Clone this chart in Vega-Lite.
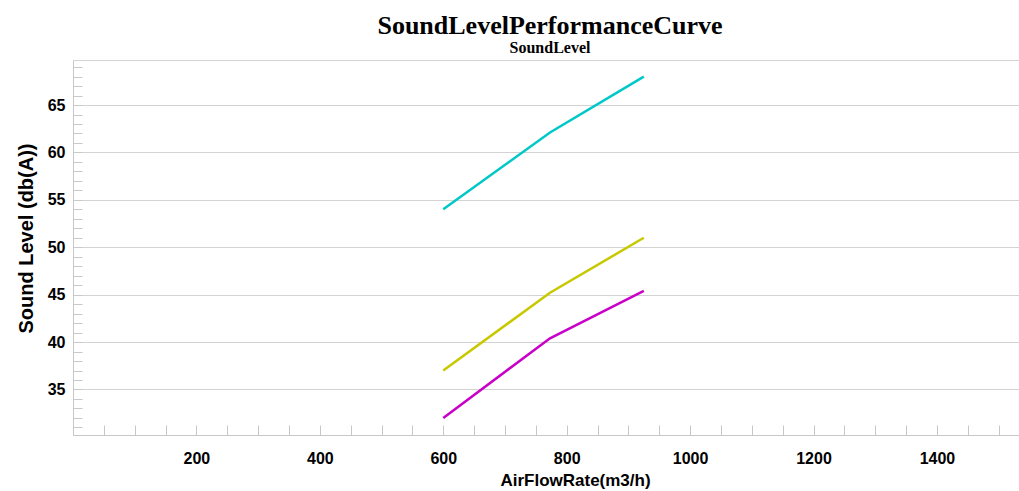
{
  "$schema": "https://vega.github.io/schema/vega-lite/v6.json",
  "width": 946,
  "height": 375,
  "autosize": {"type": "none"},
  "padding": {"left": 73, "top": 60, "right": 0, "bottom": 56},
  "background": "white",
  "title": {
    "text": "SoundLevelPerformanceCurve",
    "subtitle": "SoundLevel",
    "font": "Liberation Serif",
    "fontSize": 26,
    "fontWeight": "bold",
    "color": "black",
    "subtitleFont": "Liberation Serif",
    "subtitleFontSize": 16,
    "subtitleFontWeight": "bold",
    "subtitleColor": "black",
    "subtitlePadding": 1,
    "anchor": "middle",
    "dx": 4,
    "offset": 3
  },
  "config": {"view": {"stroke": "#d3d3d3", "strokeWidth": 1}},
  "data": {
    "values": [
      {"series": "High", "airflow": 600, "sound": 54},
      {"series": "High", "airflow": 773, "sound": 62.1},
      {"series": "High", "airflow": 925, "sound": 68},
      {"series": "Medium", "airflow": 600, "sound": 37},
      {"series": "Medium", "airflow": 773, "sound": 45.2},
      {"series": "Medium", "airflow": 925, "sound": 51},
      {"series": "Low", "airflow": 600, "sound": 32},
      {"series": "Low", "airflow": 773, "sound": 40.4},
      {"series": "Low", "airflow": 925, "sound": 45.4}
    ]
  },
  "mark": {"type": "line", "strokeWidth": 2.5},
  "encoding": {
    "x": {
      "field": "airflow",
      "type": "quantitative",
      "scale": {"domain": [0, 1533], "nice": false, "zero": false},
      "axis": {
        "title": "AirFlowRate(m3/h)",
        "values": [50, 100, 150, 200, 250, 300, 350, 400, 450, 500, 550, 600, 650, 700, 750, 800, 850, 900, 950, 1000, 1050, 1100, 1150, 1200, 1250, 1300, 1350, 1400, 1450, 1500],
        "labelExpr": "datum.value % 200 === 0 ? '' + datum.value : ''",
        "labelOverlap": false,
        "labelFlush": false,
        "grid": false,
        "tickSize": -10,
        "tickColor": "#c8c8c8",
        "domainColor": "#c8c8c8",
        "labelFont": "Liberation Sans",
        "labelFontWeight": "bold",
        "labelFontSize": 16,
        "labelColor": "black",
        "labelPadding": 25,
        "titleFont": "Liberation Sans",
        "titleFontSize": 17,
        "titleFontWeight": "bold",
        "titleColor": "black",
        "titleX": 502,
        "titleY": 50,
        "titleAlign": "center",
        "titleBaseline": "alphabetic",
        "titleAnchor": "middle"
      }
    },
    "y": {
      "field": "sound",
      "type": "quantitative",
      "scale": {"domain": [30.2, 69.75], "nice": false, "zero": false},
      "axis": {
        "title": "Sound Level (db(A))",
        "values": [31, 32, 33, 34, 35, 36, 37, 38, 39, 40, 41, 42, 43, 44, 45, 46, 47, 48, 49, 50, 51, 52, 53, 54, 55, 56, 57, 58, 59, 60, 61, 62, 63, 64, 65, 66, 67, 68, 69],
        "labelExpr": "datum.value % 5 === 0 ? '' + datum.value : ''",
        "labelOverlap": false,
        "labelFlush": false,
        "grid": true,
        "gridColor": "#d3d3d3",
        "gridOpacity": {"condition": {"test": "datum.value % 5 === 0", "value": 1}, "value": 0},
        "tickSize": -9,
        "tickColor": "#c8c8c8",
        "domainColor": "#c8c8c8",
        "labelFont": "Liberation Sans",
        "labelFontWeight": "bold",
        "labelFontSize": 16,
        "labelColor": "black",
        "labelPadding": 17,
        "titleFont": "Liberation Sans",
        "titleFontSize": 20,
        "titleFontWeight": "bold",
        "titleColor": "black",
        "titleAngle": -90,
        "titleX": -47,
        "titleY": 178,
        "titleAlign": "center",
        "titleBaseline": "middle",
        "titleAnchor": "middle"
      }
    },
    "color": {
      "field": "series",
      "type": "nominal",
      "scale": {"domain": ["High", "Medium", "Low"], "range": ["#00c8c8", "#c8c800", "#c800c8"]},
      "legend": null
    }
  }
}
